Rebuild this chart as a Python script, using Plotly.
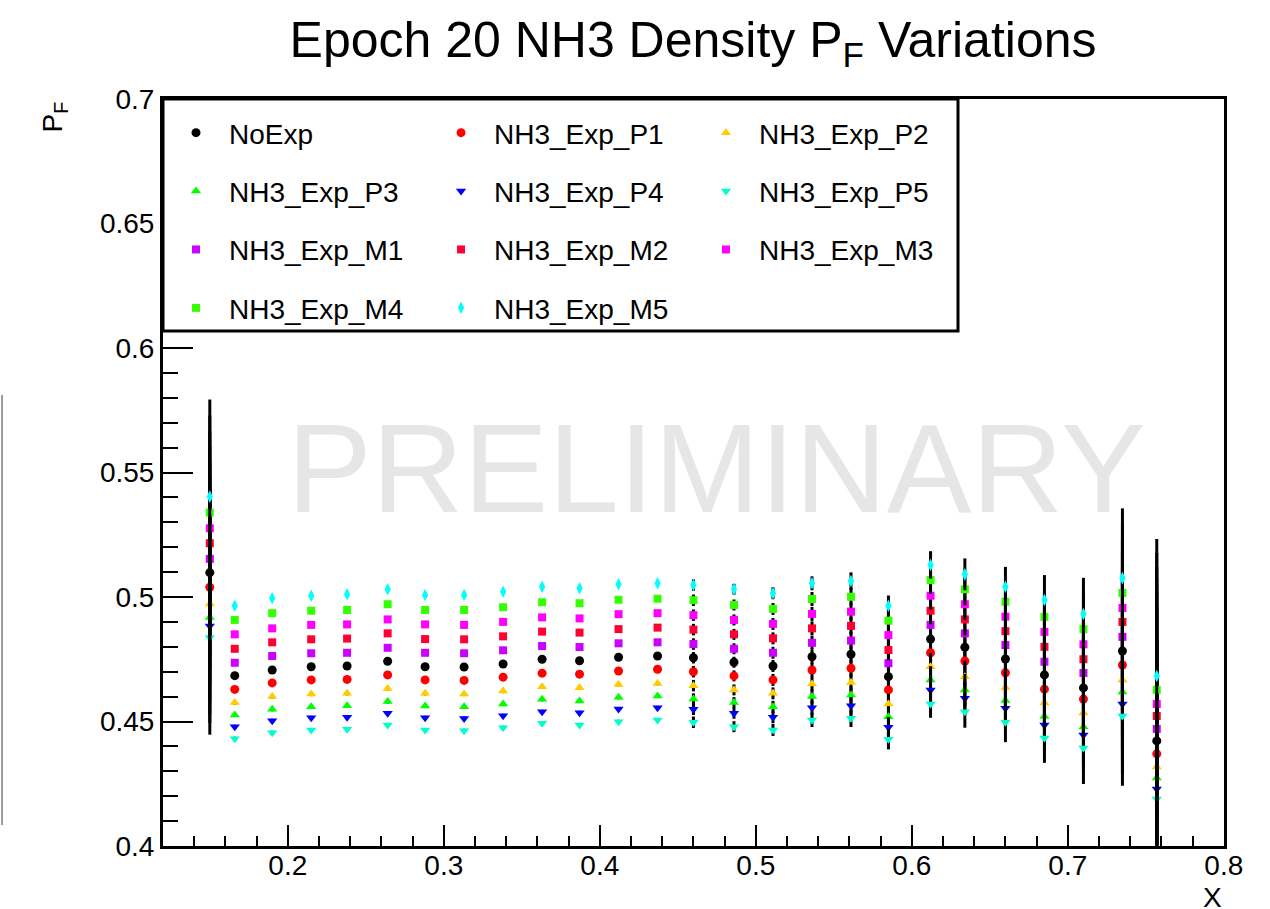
import plotly.graph_objects as go

# x positions of the bins
x_vals = [0.150, 0.166, 0.190, 0.215, 0.238, 0.264, 0.288, 0.313, 0.338, 0.363,
          0.387, 0.412, 0.437, 0.460, 0.486, 0.511, 0.536, 0.561, 0.585, 0.612,
          0.634, 0.660, 0.685, 0.710, 0.735, 0.757]

# statistical uncertainty per bin (shared by all variations)
err_vals = [0.039, 0.0008, 0.0008, 0.0008, 0.0008, 0.0008, 0.0008, 0.0008, 0.0008,
            0.0008, 0.0008, 0.0008, 0.0008, 0.0023, 0.0022, 0.0024, 0.0028, 0.0035,
            0.0041, 0.0055, 0.0064, 0.0080, 0.0100, 0.0145, 0.0280, 0.0550]

pf_noexp = [0.5098, 0.4684, 0.4707, 0.4720, 0.4723, 0.4742, 0.4720, 0.4719, 0.4731, 0.4750,
            0.4744, 0.4758, 0.4763, 0.4756, 0.4738, 0.4723, 0.4760, 0.4770, 0.4680, 0.4831,
            0.4798, 0.4751, 0.4687, 0.4635, 0.4783, 0.4422]
pf_p1 = [0.5039, 0.4629, 0.4655, 0.4667, 0.4669, 0.4687, 0.4667, 0.4665, 0.4678, 0.4694,
         0.4690, 0.4703, 0.4710, 0.4700, 0.4683, 0.4667, 0.4707, 0.4714, 0.4627, 0.4776,
         0.4743, 0.4696, 0.4630, 0.4590, 0.4727, 0.4370]
pf_p2 = [0.4972, 0.4576, 0.4600, 0.4610, 0.4613, 0.4633, 0.4613, 0.4610, 0.4622, 0.4640,
         0.4636, 0.4649, 0.4653, 0.4644, 0.4627, 0.4613, 0.4651, 0.4657, 0.4570, 0.4720,
         0.4680, 0.4637, 0.4574, 0.4534, 0.4667, 0.4317]
pf_p3 = [0.4918, 0.4526, 0.4549, 0.4559, 0.4563, 0.4580, 0.4562, 0.4559, 0.4570, 0.4589,
         0.4582, 0.4597, 0.4602, 0.4590, 0.4576, 0.4559, 0.4600, 0.4606, 0.4519, 0.4667,
         0.4627, 0.4584, 0.4520, 0.4478, 0.4618, 0.4273]
pf_p4 = [0.4884, 0.4479, 0.4503, 0.4515, 0.4517, 0.4533, 0.4515, 0.4512, 0.4523, 0.4539,
         0.4535, 0.4550, 0.4555, 0.4549, 0.4533, 0.4517, 0.4555, 0.4563, 0.4477, 0.4627,
         0.4593, 0.4553, 0.4486, 0.4446, 0.4570, 0.4229]
pf_p5 = [0.4837, 0.4431, 0.4455, 0.4466, 0.4469, 0.4486, 0.4466, 0.4463, 0.4475, 0.4493,
         0.4486, 0.4499, 0.4506, 0.4497, 0.4479, 0.4466, 0.4506, 0.4513, 0.4429, 0.4570,
         0.4539, 0.4497, 0.4434, 0.4394, 0.4522, 0.4189]
pf_m1 = [0.5153, 0.4736, 0.4763, 0.4774, 0.4776, 0.4796, 0.4776, 0.4774, 0.4786, 0.4803,
         0.4799, 0.4814, 0.4818, 0.4811, 0.4792, 0.4776, 0.4816, 0.4825, 0.4734, 0.4888,
         0.4854, 0.4807, 0.4740, 0.4695, 0.4840, 0.4470]
pf_m2 = [0.5216, 0.4792, 0.4818, 0.4830, 0.4833, 0.4854, 0.4831, 0.4830, 0.4842, 0.4861,
         0.4857, 0.4871, 0.4877, 0.4869, 0.4850, 0.4834, 0.4874, 0.4884, 0.4787, 0.4945,
         0.4910, 0.4863, 0.4800, 0.4750, 0.4900, 0.4522]
pf_m3 = [0.5276, 0.4850, 0.4874, 0.4888, 0.4890, 0.4910, 0.4890, 0.4888, 0.4900, 0.4918,
         0.4914, 0.4931, 0.4935, 0.4927, 0.4908, 0.4892, 0.4932, 0.4941, 0.4847, 0.5005,
         0.4971, 0.4921, 0.4860, 0.4810, 0.4956, 0.4570]
pf_m4 = [0.5339, 0.4908, 0.4935, 0.4945, 0.4948, 0.4971, 0.4948, 0.4948, 0.4959, 0.4979,
         0.4975, 0.4989, 0.4993, 0.4987, 0.4968, 0.4952, 0.4992, 0.5001, 0.4905, 0.5068,
         0.5031, 0.4981, 0.4920, 0.4871, 0.5016, 0.4627]
pf_m5 = [0.5403, 0.4965, 0.4995, 0.5005, 0.5011, 0.5031, 0.5008, 0.5008, 0.5021, 0.5041,
         0.5035, 0.5051, 0.5055, 0.5048, 0.5031, 0.5015, 0.5055, 0.5064, 0.4965, 0.5129,
         0.5091, 0.5041, 0.4988, 0.4932, 0.5076, 0.4683]

# (name, values, colour, symbol, size, legend column)
series = [
    ("NoExp",      pf_noexp, "#000000", "circle",        9, "legend"),
    ("NH3_Exp_P1", pf_p1,    "#ff0000", "circle",        9, "legend2"),
    ("NH3_Exp_P2", pf_p2,    "#ffcc00", "triangle-up",   9, "legend3"),
    ("NH3_Exp_P3", pf_p3,    "#00ff00", "triangle-up",   9, "legend"),
    ("NH3_Exp_P4", pf_p4,    "#0000ff", "triangle-down", 9, "legend2"),
    ("NH3_Exp_P5", pf_p5,    "#00ffcc", "triangle-down", 9, "legend3"),
    ("NH3_Exp_M1", pf_m1,    "#cc00ff", "square",        8, "legend"),
    ("NH3_Exp_M2", pf_m2,    "#ff0033", "square",        8, "legend2"),
    ("NH3_Exp_M3", pf_m3,    "#ff00ff", "square",        8, "legend3"),
    ("NH3_Exp_M4", pf_m4,    "#33ff00", "square",        8, "legend"),
    ("NH3_Exp_M5", pf_m5,    "#00ffff", "diamond-tall",  9, "legend2"),
]

FONT = "Liberation Sans, Arial, Helvetica, sans-serif"

fig = go.Figure()
for name, vals, color, symbol, size, leg in series:
    fig.add_trace(go.Scatter(
        x=x_vals, y=vals, name=name, mode="markers",
        marker=dict(color=color, symbol=symbol, size=size, line=dict(width=0)),
        error_y=dict(type="data", array=err_vals, color="black", thickness=3, width=0),
        legend=leg, legendgroup=name,
    ))

legend_common = dict(
    bgcolor="rgba(0,0,0,0)", borderwidth=0, orientation="v",
    font=dict(family=FONT, size=28, color="black"),
    itemwidth=56, traceorder="grouped", tracegroupgap=19,
    xanchor="left", yanchor="top", y=0.988,
)

axis_common = dict(
    showline=True, linecolor="black", linewidth=3, mirror=True,
    showgrid=False, zeroline=False, ticks="inside", tickcolor="black",
    tickwidth=2, tickfont=dict(family=FONT, size=28, color="black"),
)

fig.update_layout(
    width=1270, height=909,
    margin=dict(l=163, r=46, t=99, b=63),
    paper_bgcolor="white", plot_bgcolor="white",
    showlegend=True,
    title=dict(text="Epoch 20 NH3 Density P<sub>F</sub> Variations",
               font=dict(family=FONT, size=50, color="black"),
               x=0.5457, xanchor="center", xref="container",
               y=0.9758, yanchor="top", yref="container"),
    xaxis=dict(range=[0.12, 0.8001], tick0=0, dtick=0.1, ticklen=21,
               ticklabelstandoff=-8,
               minor=dict(dtick=0.02, ticklen=10, tickwidth=2, tickcolor="black", ticks="inside"),
               **axis_common),
    yaxis=dict(range=[0.4, 0.7], tick0=0.4, dtick=0.05, ticklen=30,
               minor=dict(dtick=0.01, ticklen=15, tickwidth=2, tickcolor="black", ticks="inside"),
               **axis_common),
    legend=dict(x=0.0, **legend_common),
    legend2=dict(x=0.2498, **legend_common),
    legend3=dict(x=0.4995, **legend_common),
)

# legend frame
fig.add_shape(type="rect", xref="paper", yref="paper", x0=0, x1=0.7493, y0=0.6894, y1=1.0,
              line=dict(color="black", width=3), fillcolor="white", layer="above")

# faint vertical rule on the far left of the canvas
fig.add_shape(type="line", xref="paper", yref="paper", x0=-0.1517, x1=-0.1517,
              y0=0.0281, y1=0.6037, line=dict(color="#9a9a9a", width=2))

fig.add_annotation(text="PRELIMINARY", xref="paper", yref="paper", x=0.5221, y=0.506,
                   xanchor="center", yanchor="middle", showarrow=False,
                   font=dict(family=FONT, size=127, color="#e6e6e6"))
fig.add_annotation(text="P<sub>F</sub>", xref="paper", yref="paper", x=-0.1018, y=1.0,
                   xanchor="center", yanchor="top", textangle=-90, showarrow=False,
                   font=dict(family=FONT, size=28, color="black"))
fig.add_annotation(text="X", xref="paper", yref="paper", x=0.9896, y=-0.0685,
                   xanchor="center", yanchor="middle", showarrow=False,
                   font=dict(family=FONT, size=28, color="black"))

fig.write_html("out.html")
